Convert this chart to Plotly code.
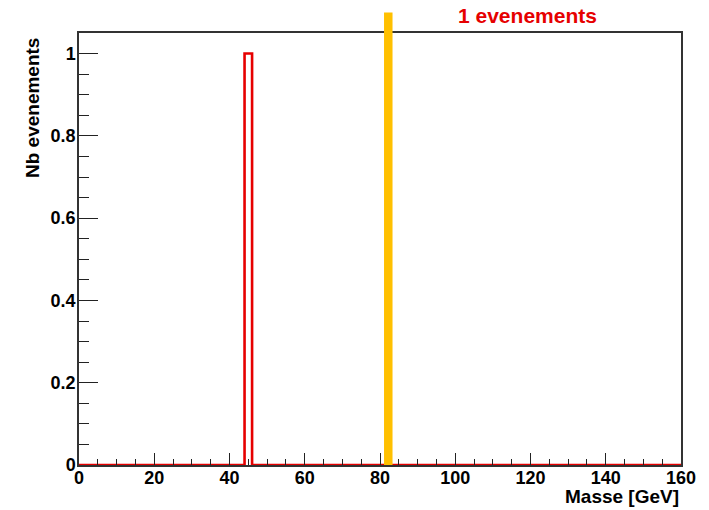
import numpy as np
import plotly.graph_objects as go

# Data
bin_edges = list(range(0, 162, 2))          # 2 GeV bins, 0..160
counts = [0] * 80
counts[22] = 1                               # bin 44-46 GeV has one event
marker_mass = 82.2                           # yellow marker line (GeV)
marker_top = 1.1                             # marker extends above frame
title_text = "1 evenements"
x_title = "Masse [GeV]"
y_title = "Nb evenements"
x_range = [0, 160]
y_range = [0, 1.05]

# Step outline of histogram
xs = bin_edges
ys = counts + [counts[-1]]

fig = go.Figure()
fig.add_trace(go.Scatter(
    x=xs, y=ys, mode="lines", line=dict(shape="hv", color="#E60000", width=2.6),
    hoverinfo="skip", showlegend=False, cliponaxis=False,
))

# page body margin offset (8 px) — target viewport coordinates
OFF = 8
W, H = 709, 510
left_v, right_v, top_v, bottom_v = 79, 681, 33, 465
ml = left_v - OFF
mt = top_v - OFF
mr = W - (right_v - OFF)
mb = H - (bottom_v - OFF)
pw = right_v - left_v
ph = bottom_v - top_v

def px(xv):
    return (xv - left_v) / pw

def py(yv):
    return (bottom_v - yv) / ph

fig.add_shape(type="line", xref="x", yref="paper",
              x0=marker_mass, x1=marker_mass,
              y0=0, y1=marker_top / y_range[1],
              line=dict(color="#FFC000", width=8.5), layer="above")

font_family = "Liberation Sans, Arial, sans-serif"
fig.update_layout(
    width=W, height=H,
    margin=dict(l=ml, r=mr, t=mt, b=mb),
    plot_bgcolor="white", paper_bgcolor="white",
    font=dict(family=font_family, color="black"),
    showlegend=False,
    xaxis=dict(range=x_range, dtick=20, ticks="inside", ticklen=12, tickwidth=1.3,
               tickcolor="#222", showgrid=False, zeroline=False,
               showline=True, linecolor="#333", linewidth=1.5, mirror=True,
               ticklabelstandoff=-4,
               tickfont=dict(size=18, family=font_family, weight="bold"),
               minor=dict(dtick=5, ticks="inside", ticklen=6, tickcolor="#222", tickwidth=1.2, showgrid=False)),
    yaxis=dict(range=y_range, dtick=0.2, ticks="inside", ticklen=19, tickwidth=1.3,
               tickcolor="#222", showgrid=False, zeroline=False,
               showline=True, linecolor="#333", linewidth=1.5, mirror=True,
               tickformat="~g", ticklabelstandoff=-2,
               tickfont=dict(size=18, family=font_family, weight="bold"),
               minor=dict(dtick=0.05, ticks="inside", ticklen=10, tickcolor="#222", tickwidth=1.2, showgrid=False)),
    annotations=[
        dict(text=title_text, xref="paper", yref="paper",
             x=px(527), y=py(16), xanchor="center", yanchor="middle",
             showarrow=False, font=dict(size=21, color="#E60000", family=font_family, weight="bold")),
        dict(text=x_title, xref="paper", yref="paper",
             x=1.0, y=py(497), xanchor="right", yanchor="middle",
             showarrow=False, font=dict(size=19, family=font_family, weight="bold")),
        dict(text=y_title, xref="paper", yref="paper", textangle=-90,
             x=px(32), y=py(108), xanchor="center", yanchor="middle",
             showarrow=False, font=dict(size=19, family=font_family, weight="bold")),
    ],
)

fig.write_html("out.html")
